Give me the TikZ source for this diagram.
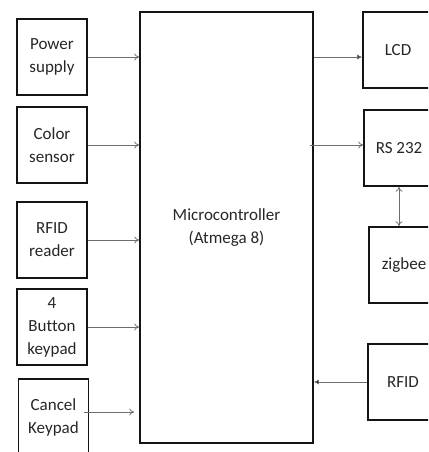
\documentclass[tikz,border=0pt]{standalone}
\usepackage{fontspec}
\setmainfont{Carlito}[Ligatures=CommonOff]
\usepackage{tikz}
\usetikzlibrary{arrows.meta}
\definecolor{boxLine}{RGB}{20,20,20}
\definecolor{wireGray}{RGB}{110,110,110}

\begin{document}
\begin{tikzpicture}[x=1pt, y=-1pt,
  blk/.style={draw=boxLine, line width=1.6pt, minimum width=70pt, minimum height=76pt,
    align=center, inner sep=0pt, font=\fontsize{17}{23}\selectfont, text=black!85},
  wire/.style={draw=wireGray, line width=0.8pt, -{To[length=5pt,width=7pt]}},
  wirefill/.style={draw=wireGray, line width=0.8pt, -{Latex[length=5pt,width=5pt,fill=black]}}]
\useasboundingbox (0,0) rectangle (428,452);
\clip (0,0) rectangle (428,452);
% inputs
\node[blk] (ps) at (52,57) {Power\\supply};
\node[blk] (cs) at (52,145) {Color\\sensor};
\node[blk] (rr) at (52,240) {RFID\\reader};
\node[blk] (bk) at (52,327) {4\\Button\\keypad};
\node[blk] (ck) at (53.5,417) {Cancel\\Keypad};
% controller
\node[blk, minimum width=173pt, minimum height=431pt] (mcu) at (226.5,227.5) {Microcontroller\\(Atmega 8)};
% outputs
\node[blk] (lcd) at (398,50) {LCD};
\node[blk] (rs) at (399,148) {RS 232};
\node[blk] (zb) at (404,265) {zigbee};
\node[blk] (rf) at (403,382) {RFID};
\foreach \n in {ps,cs,rr,bk}{
\draw[wire] (\n.east) -- (\n.east -| mcu.west);
}
\draw[wire] ([xshift=-5pt,yshift=5pt]ck.east) -- ([xshift=-5pt,yshift=5pt]ck.east -| mcu.west);
\draw[wirefill] (mcu.east |- ps) -- (lcd.west |- ps);
\draw[wire] ([xshift=-4pt]mcu.east |- cs) -- (rs.west |- cs);
\draw[wire, {To[length=5pt,width=7pt]}-{To[length=5pt,width=7pt]}] (rs.south) -- (rs.south |- zb.north);
\draw[wirefill] (rf.west) -- (mcu.east |- rf);
\end{tikzpicture}
\end{document}
